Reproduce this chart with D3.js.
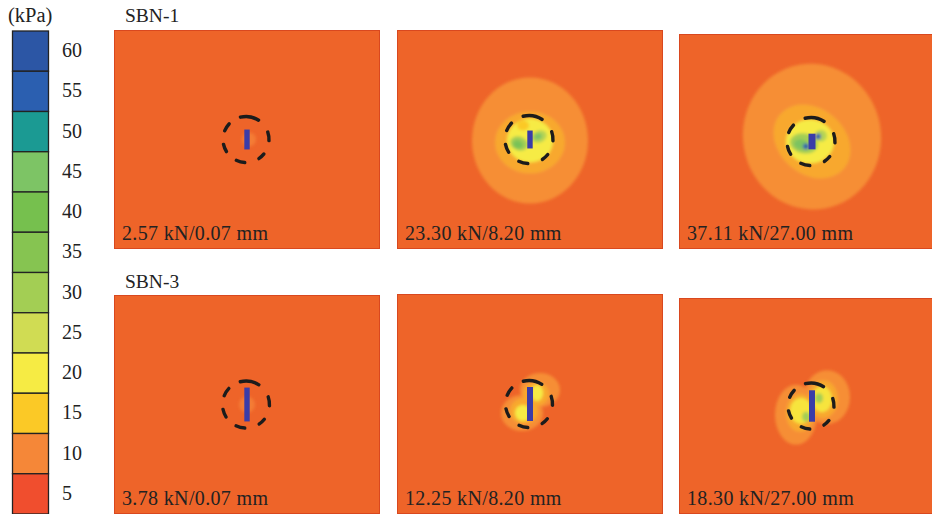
<!DOCTYPE html>
<html>
<head>
<meta charset="utf-8">
<script src="https://cdn.jsdelivr.net/npm/d3@7"></script>
<style>
  html, body { margin: 0; padding: 0; background: #fff; overflow: hidden; }
  svg { display: block; }
  text { font-family: "Liberation Serif", serif; fill: #222; }
</style>
</head>
<body>
<svg id="chart" width="932" height="514"></svg>
<script>
// legend values, top to bottom
const stressLevels = [60, 55, 50, 45, 40, 35, 30, 25, 20, 15, 10, 5];
const stressColors = ["#2C56A5", "#2B5FB0", "#1B9A93", "#7DC465", "#76C04E", "#86C451",
  "#A3CE54", "#D0DC53", "#F6EB44", "#FBC926", "#F58738", "#F04E2E"];

const specimens = ["SBN-1", "SBN-3"];
const loadLabels = [
  "2.57 kN/0.07 mm", "23.30 kN/8.20 mm", "37.11 kN/27.00 mm",
  "3.78 kN/0.07 mm", "12.25 kN/8.20 mm", "18.30 kN/27.00 mm"
];

// stress regions: [kPa, dx, dy, rx, ry, tilt]
const regions1 = [[9, 2, 0, 7, 7, 0]];
const regions2 = [
  [10.5, 0, 1, 58, 63, 0],
  [12.5, 0, 3, 35, 31, 0],
  [20, 0, 1, 23, 22, 0],
  [15, -7, -14, 6, 5, 0],
  [30, -11, 4, 9, 7, 20],
  [42, -12, 5, 5, 4, 20],
  [28, 9, -3, 8, 6, -20],
  [45, 8, -3, 4, 3, -20]
];
const regions3 = [
  [10.5, 0, -5, 69, 73, -10],
  [12.5, 0, 0, 42, 33, 40],
  [20, -2, 0, 24, 22, 0],
  [30, -8, 2, 14, 10, 10],
  [44, -11, 3, 7, 5, 10],
  [28, 9, -6, 6, 6, 0],
  [55, 6, -5, 3, 3, 0],
  [55, -6, 5, 3, 3, 0]
];
const regions4 = [[9, 0, 0, 8, 8, 0]];
const regions5 = [
  [10.5, 10, -14, 20, 17, 0],
  [10.5, -8, 9, 21, 18, 0],
  [12.5, 6, -10, 13, 12, 0],
  [12.5, -6, 7, 14, 13, 0],
  [20, 7, -11, 6, 8, 0],
  [20, -7, 9, 8, 8, 0]
];
const regions6 = [
  [10.5, 15, -9, 23, 27, 0],
  [10.5, -16, 9, 21, 30, 0],
  [12.5, 11, -7, 15, 19, 0],
  [12.5, -12, 7, 14, 19, 0],
  [19, 10, -7, 10, 13, 0],
  [19, -11, 5, 11, 13, 0],
  [30, 7, -8, 4, 5, 0],
  [30, -6, 11, 4, 5, 0]
];
const plateRegions = [regions1, regions2, regions3, regions4, regions5, regions6];

// slot half-height, slot width and ring radius on each plate
const slotHalf = [10, 9, 8, 17, 17, 16];
const slotWidth = [5.4, 5.4, 7, 5.4, 6, 6];
const ringRadius = [23, 24, 24, 23.5, 23.5, 23];
// the six ring dashes, degrees clockwise from the top
const ringDashes = [[-18, 37], [67, 97], [125, 150], [179, 209], [234, 262], [288, 317]];

const plateColor = "#EE6429";
const slotColor = "#3A3CA8";

const svg = d3.select("#chart");

// legend
const legendY = d3.scaleBand().domain(stressLevels).range([31, 514]);
const legend = svg.append("g");

legend.selectAll("rect")
  .data(stressLevels)
  .enter()
  .append("rect")
  .attr("x", 12.5)
  .attr("y", (d) => legendY(d))
  .attr("width", 36)
  .attr("height", legendY.bandwidth())
  .style("fill", (d, i) => stressColors[i])
  .style("stroke", "#222")
  .style("stroke-width", 1.3);

legend.selectAll("text")
  .data(stressLevels)
  .enter()
  .append("text")
  .attr("x", 62)
  .attr("y", (d) => legendY(d) + legendY.bandwidth() / 2 + 6)
  .style("font-size", "20px")
  .text((d) => d);

svg.append("text").attr("x", 8).attr("y", 22).style("font-size", "20.5px").text("(kPa)");

svg.selectAll(".specimen")
  .data(specimens)
  .enter()
  .append("text")
  .attr("class", "specimen")
  .attr("x", 125)
  .attr("y", (d, i) => (i === 0 ? 22 : 288))
  .style("font-size", "19.5px")
  .text((d) => d);

// plates
const stressColor = d3.scaleLinear()
  .domain(stressLevels.slice().reverse())
  .range(stressColors.slice().reverse());

const defs = svg.append("defs");
defs.append("filter")
  .attr("id", "soft")
  .attr("x", "-20%").attr("y", "-20%").attr("width", "140%").attr("height", "140%")
  .append("feGaussianBlur")
  .attr("stdDeviation", 1.8);

const plateBoxes = [
  [114, 30, 380, 249], [397, 30, 663, 249], [679, 34, 945, 249],
  [114, 295, 380, 514], [397, 294, 663, 514], [679, 298, 945, 514]
];

plateBoxes.forEach((box, p) => {
  const [x0, y0, x1, y1] = box;
  const x = d3.scaleLinear().domain([-133, 133]).range([x0, x1]);
  const y = d3.scaleLinear().domain([-110, 110]).range([y0, y1]);
  const k = (x1 - x0) / 266;

  defs.append("clipPath")
    .attr("id", `plate-clip-${p}`)
    .append("rect")
    .attr("x", x0).attr("y", y0).attr("width", x1 - x0).attr("height", y1 - y0);

  const g = svg.append("g").attr("clip-path", `url(#plate-clip-${p})`);

  g.append("rect")
    .attr("x", x0).attr("y", y0).attr("width", x1 - x0).attr("height", y1 - y0)
    .style("fill", plateColor);

  g.append("g")
    .attr("filter", "url(#soft)")
    .selectAll("ellipse")
    .data(plateRegions[p])
    .enter()
    .append("ellipse")
    .attr("cx", (d) => x(d[1]))
    .attr("cy", (d) => y(d[2]))
    .attr("rx", (d) => d[3] * k)
    .attr("ry", (d) => d[4] * k)
    .attr("transform", (d) => `rotate(${d[5]} ${x(d[1])} ${y(d[2])})`)
    .style("fill", (d) => stressColor(d[0]));

  // slot in the middle of the plate
  g.append("rect")
    .attr("x", x(0) - slotWidth[p] / 2)
    .attr("y", y(-slotHalf[p]))
    .attr("width", slotWidth[p])
    .attr("height", y(slotHalf[p]) - y(-slotHalf[p]))
    .style("fill", slotColor);

  // dashed ring
  const dash = d3.arc()
    .innerRadius(ringRadius[p] - 1.7)
    .outerRadius(ringRadius[p] + 1.7)
    .cornerRadius(1.5)
    .startAngle((d) => (d[0] * Math.PI) / 180)
    .endAngle((d) => (d[1] * Math.PI) / 180);

  g.append("g")
    .attr("transform", `translate(${x(-1)}, ${y(0)})`)
    .selectAll("path")
    .data(ringDashes)
    .enter()
    .append("path")
    .attr("d", dash)
    .style("fill", "#1c1c1c");

  // darker edges of the scan
  g.append("rect")
    .attr("x", x0 + 0.5).attr("y", y0 + 0.5).attr("width", x1 - x0 - 1).attr("height", y1 - y0 - 1)
    .style("fill", "none")
    .style("stroke", "#D9481F")
    .style("stroke-width", 1);

  g.append("text")
    .attr("x", x0 + 8)
    .attr("y", y1 - 9)
    .style("font-size", "20px")
    .style("letter-spacing", "0.35px")
    .text(loadLabels[p]);
});
</script>
</body>
</html>
